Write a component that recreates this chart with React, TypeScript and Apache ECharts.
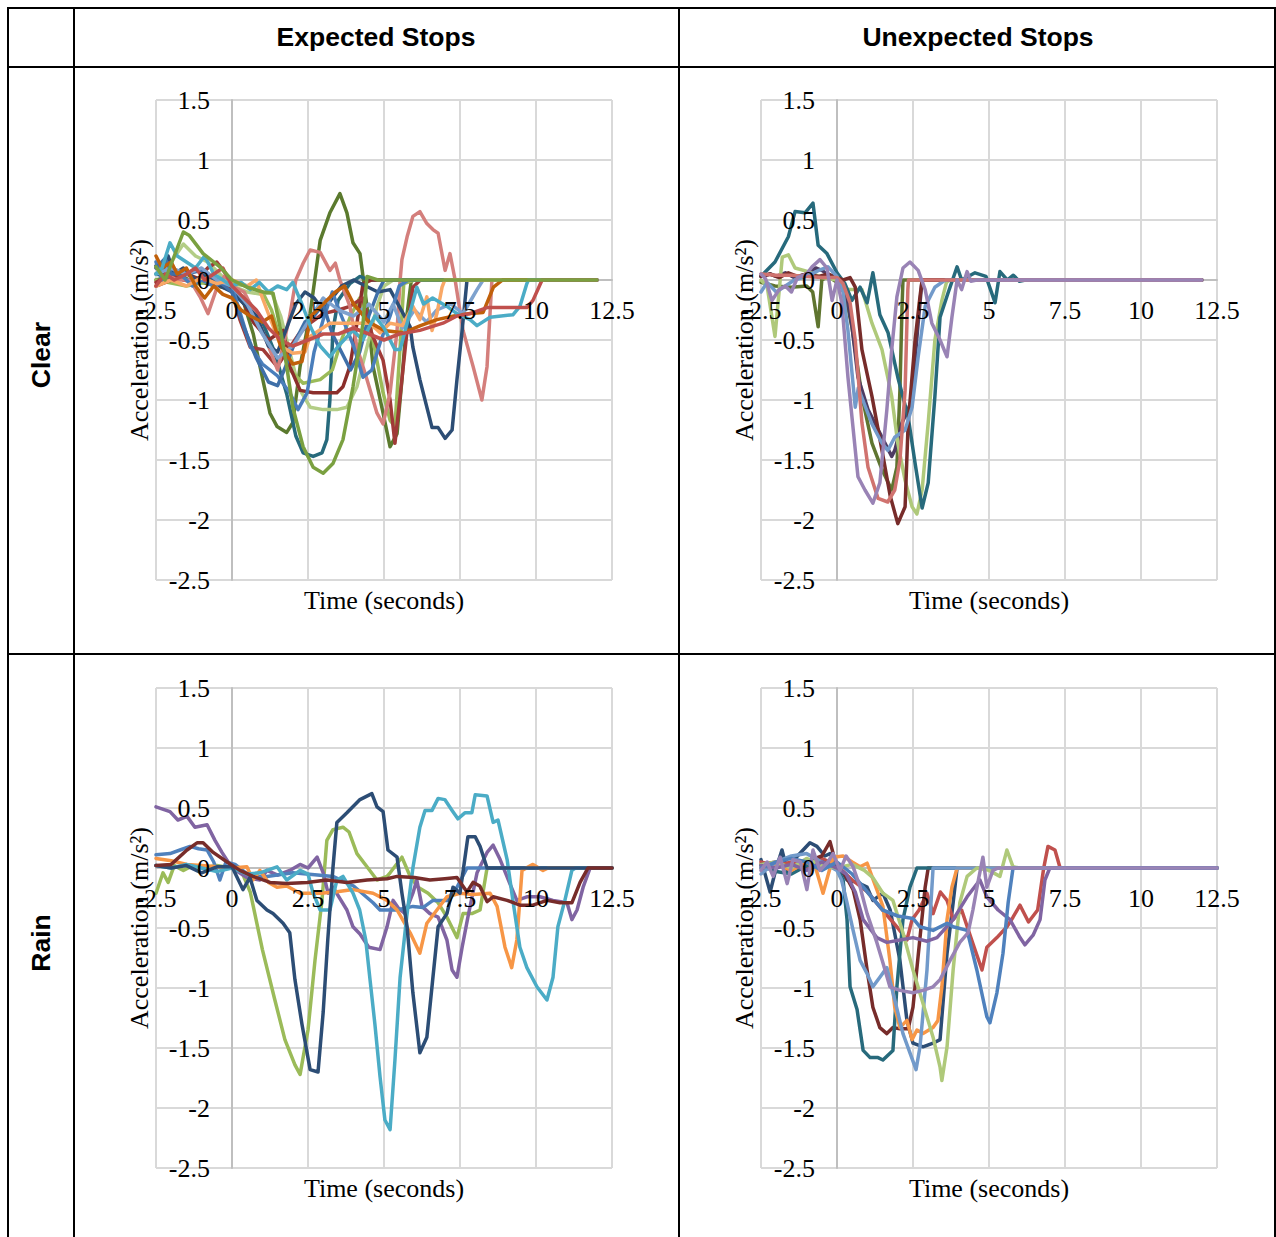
import React, { useEffect, useRef } from "react";
import * as echarts from "echarts";

type Pt = [number, number];

// ---------- axis ticks & texts ----------
const xTicks = [-2.5, 0, 2.5, 5, 7.5, 10, 12.5];
const yTicks = [-2.5, -2, -1.5, -1, -0.5, 0, 0.5, 1, 1.5];
const columnHeaders = ["Expected Stops", "Unexpected Stops"];
const rowHeaders = ["Clear", "Rain"];
const xAxisTitle = "Time (seconds)";
const yAxisTitle = "Acceleration (m/s²)";

// ---------- Clear / Expected ----------
const ceOlive: Pt[] = [[-2.5,0.0],[-2.2,0.02],[-1.8,0.05],[-1.4,0.0],[-1.0,-0.02],[-0.5,-0.05],[0,-0.08],[0.4,-0.2],[0.7,-0.45],[0.92,-0.72],[1.25,-1.11],[1.48,-1.22],[1.8,-1.27],[2.0,-1.19],[2.24,-0.72],[2.57,-0.28],[2.9,0.33],[3.22,0.56],[3.55,0.72],[3.78,0.56],[3.98,0.31],[4.21,0.22],[4.44,-0.22],[4.64,-0.72],[4.97,-1.11],[5.2,-1.39],[5.43,-1.28],[5.59,-0.83],[5.76,-0.28],[5.9,0],[12,0]];
const ceTeal: Pt[] = [[-2.5,0.05],[-2,0.02],[-1.5,0.0],[-1,0.02],[-0.5,-0.02],[0,-0.05],[0.3,-0.15],[0.6,-0.2],[1,-0.35],[1.4,-0.6],[1.8,-0.95],[2.1,-1.3],[2.34,-1.44],[2.67,-1.47],[2.96,-1.44],[3.12,-1.33],[3.22,-1.0],[3.32,-0.42],[3.49,-0.17],[3.88,-0.03],[4.21,0.03],[4.5,0],[12,0]];
const ceLightGreen: Pt[] = [[-2.5,0.05],[-2.0,0.15],[-1.6,0.3],[-1.2,0.2],[-0.8,0.15],[-0.4,0.05],[0,-0.05],[0.5,-0.1],[1.0,-0.12],[1.3,-0.1],[1.6,-0.3],[1.9,-0.6],[2.2,-0.9],[2.57,-1.06],[3.0,-1.08],[3.45,-1.08],[3.78,-1.06],[4.11,-0.89],[4.44,-0.56],[4.77,-0.22],[5.0,-0.05],[5.3,0],[12,0]];
const ceGreen2: Pt[] = [[-2.5,0.0],[-1.5,-0.05],[-0.5,0.0],[0,-0.03],[0.5,-0.05],[1.0,-0.1],[1.3,-0.25],[1.6,-0.5],[1.9,-0.75],[2.34,-0.86],[2.9,-0.83],[3.3,-0.75],[3.6,-0.5],[3.9,-0.3],[4.2,-0.15],[4.6,-0.45],[4.97,-0.94],[5.2,-1.17],[5.36,-1.22],[5.53,-0.56],[5.65,-0.03],[6,0],[12,0]];
const ceDarkRed: Pt[] = [[-2.5,-0.05],[-2,0.0],[-1.5,0.05],[-1,0.0],[-0.5,-0.02],[0,-0.05],[0.3,-0.15],[0.7,-0.35],[1.2,-0.5],[1.68,-0.42],[1.9,-0.72],[2.24,-0.92],[2.67,-0.94],[3.0,-0.94],[3.45,-0.94],[3.65,-0.89],[3.88,-0.72],[4.11,-0.36],[4.31,-0.03],[4.6,0],[12,0]];
const ceRed2: Pt[] = [[-2.5,-0.02],[-2,0.05],[-1.6,0.0],[-1.2,-0.02],[-0.8,0.1],[-0.5,0.15],[-0.2,0.05],[0,-0.1],[0.26,-0.33],[0.6,-0.56],[1.02,-0.58],[1.48,-0.72],[1.8,-0.6],[2.2,-0.45],[2.57,-0.36],[3.0,-0.28],[3.5,-0.25],[3.88,-0.22],[4.3,-0.15],[4.6,-0.45],[4.97,-0.67],[5.2,-1.0],[5.36,-1.36],[5.53,-0.97],[5.76,-0.42],[5.95,-0.06],[6.2,0],[12,0]];
const ceSalmon: Pt[] = [[-2.5,0.1],[-2.2,0.05],[-1.8,0.0],[-1.38,0.0],[-1.05,-0.14],[-0.79,-0.28],[-0.49,-0.06],[-0.2,0.05],[0,-0.05],[0.4,-0.1],[0.8,-0.3],[1.2,-0.55],[1.5,-0.75],[1.9,-0.3],[2.1,0.0],[2.34,0.14],[2.57,0.25],[2.9,0.23],[3.22,0.08],[3.4,0.14],[3.55,0],[3.88,-0.22],[4.11,-0.56],[4.44,-0.83],[4.77,-1.11],[4.97,-1.2],[5.2,-0.94],[5.43,-0.42],[5.53,0],[5.59,0.17],[5.76,0.36],[5.95,0.53],[6.18,0.57],[6.41,0.47],[6.61,0.42],[6.78,0.39],[7.01,0.08],[7.17,0.22],[7.34,0],[7.6,-0.42],[7.93,-0.72],[8.22,-1.0],[8.39,-0.72],[8.55,0],[12,0]];
const ceDarkBlue: Pt[] = [[-2.5,0.12],[-2.3,0.05],[-2.1,0.2],[-1.9,0.05],[-1.6,0.1],[-1.2,0.0],[-0.8,0.05],[-0.4,-0.05],[0,-0.1],[0.4,-0.2],[0.8,-0.3],[1.2,-0.55],[1.5,-0.6],[1.8,-0.4],[2.1,-0.2],[2.4,-0.1],[2.7,-0.15],[3.0,-0.25],[3.3,-0.15],[3.6,-0.05],[4.0,0.0],[4.4,-0.05],[4.8,-0.1],[5.2,-0.08],[5.63,-0.28],[5.86,-0.39],[5.95,-0.56],[6.18,-0.83],[6.58,-1.23],[6.78,-1.23],[7.01,-1.32],[7.24,-1.25],[7.4,-0.83],[7.57,-0.42],[7.73,0],[12,0]];
const ceBlue: Pt[] = [[-2.5,0.15],[-2.3,0.0],[-2.0,0.1],[-1.7,0.05],[-1.3,-0.05],[-1.0,0.0],[-0.6,-0.05],[-0.3,-0.02],[0,-0.05],[0.3,-0.3],[0.6,-0.55],[1.0,-0.7],[1.5,-0.8],[1.9,-0.94],[2.17,-1.08],[2.47,-0.94],[2.7,-0.6],[3.0,-0.33],[3.3,-0.1],[3.6,-0.3],[4.0,-0.55],[4.31,-0.81],[4.6,-0.75],[4.9,-0.5],[5.2,-0.3],[5.5,-0.05],[5.8,0],[12,0]];
const ceBlue2: Pt[] = [[-2.5,0.1],[-2.2,0.18],[-2.0,0.05],[-1.5,0.05],[-1.0,0.08],[-0.5,0.0],[0,-0.1],[0.4,-0.4],[0.8,-0.65],[1.2,-0.85],[1.5,-0.88],[1.8,-0.7],[2.1,-0.5],[2.4,-0.35],[2.7,-0.3],[3.0,-0.2],[3.3,-0.45],[3.6,-0.6],[3.9,-0.75],[4.2,-0.6],[4.5,-0.3],[4.8,-0.1],[5.0,0],[12,0]];
const ceLightBlue: Pt[] = [[-2.5,0.05],[-2,0.1],[-1.5,0.05],[-1,0.1],[-0.5,0.0],[0,-0.05],[0.5,-0.2],[1.0,-0.45],[1.5,-0.65],[2.0,-0.55],[2.5,-0.35],[3.0,-0.15],[3.5,-0.25],[4.0,-0.3],[4.5,-0.2],[5.0,-0.35],[5.3,-0.2],[5.6,-0.4],[6.0,-0.25],[6.4,-0.35],[6.74,-0.25],[7.2,-0.2],[7.6,-0.28],[7.9,-0.15],[8.06,-0.08],[8.26,0],[12,0]];
const ceOrange: Pt[] = [[-2.5,-0.05],[-2,0.0],[-1.5,-0.05],[-1,0.02],[-0.5,-0.03],[0,0.0],[0.5,-0.05],[0.8,0.0],[1.0,-0.15],[1.3,-0.35],[1.6,-0.55],[2.0,-0.61],[2.4,-0.6],[2.57,-0.47],[3.22,-0.36],[3.88,-0.36],[4.54,-0.36],[4.87,-0.44],[5.2,-0.36],[5.6,-0.38],[5.95,-0.22],[6.18,-0.33],[6.41,-0.14],[6.58,-0.42],[6.74,-0.28],[6.91,-0.06],[7.0,0],[12,0]];
const ceDarkOrange: Pt[] = [[-2.5,0.2],[-2.3,0.1],[-2.0,0.15],[-1.8,0.05],[-1.5,0.1],[-1.2,-0.05],[-0.9,-0.15],[-0.6,-0.05],[-0.3,-0.12],[0,-0.15],[0.3,-0.25],[0.6,-0.3],[1.0,-0.35],[1.3,-0.3],[1.6,-0.55],[2.0,-0.7],[2.3,-0.68],[2.6,-0.3],[3.0,-0.2],[3.4,-0.1],[3.7,-0.05],[4.0,-0.2],[4.5,-0.35],[5.0,-0.42],[5.63,-0.44],[6.2,-0.38],[6.74,-0.33],[7.3,-0.3],[7.83,-0.28],[8.26,-0.27],[8.6,-0.06],[8.9,0],[12,0]];
const ceAqua: Pt[] = [[-2.5,0.05],[-2.3,0.1],[-2.04,0.31],[-1.8,0.2],[-1.5,0.15],[-1.2,0.1],[-0.9,0.2],[-0.6,0.05],[-0.3,0.0],[0,-0.05],[0.3,-0.02],[0.6,-0.08],[0.9,-0.02],[1.2,-0.1],[1.5,-0.05],[1.8,-0.08],[2.0,-0.02],[2.3,-0.2],[2.6,-0.4],[2.9,-0.55],[3.22,-0.64],[3.5,-0.55],[3.98,-0.42],[4.3,-0.5],[4.7,-0.3],[5.0,-0.4],[5.36,-0.58],[5.53,-0.58],[5.76,-0.36],[6.08,-0.06],[6.3,-0.2],[6.6,-0.15],[7.07,-0.22],[7.4,-0.28],[7.83,-0.33],[8.06,-0.38],[8.49,-0.31],[9.24,-0.29],[9.47,-0.22],[9.7,-0.03],[9.75,0],[12,0]];
const ceRed: Pt[] = [[-2.5,-0.05],[-2.2,0.05],[-1.9,0.0],[-1.5,0.05],[-1.2,0.1],[-0.9,0.0],[-0.6,0.05],[-0.3,0.1],[0,-0.05],[0.4,-0.15],[0.8,-0.25],[1.2,-0.4],[1.6,-0.5],[2.0,-0.55],[2.5,-0.5],[3.0,-0.45],[3.5,-0.45],[4.0,-0.4],[4.5,-0.45],[5.0,-0.5],[5.5,-0.45],[6.18,-0.42],[6.94,-0.36],[7.4,-0.3],[7.83,-0.28],[8.39,-0.23],[9.37,-0.23],[9.7,-0.23],[9.9,-0.17],[10.2,0],[12,0]];
const ceGreen: Pt[] = [[-2.5,0.11],[-2.2,0.0],[-1.9,0.2],[-1.6,0.4],[-1.4,0.37],[-0.95,0.22],[-0.4,0.11],[0,0.0],[0.49,-0.06],[1.02,-0.1],[1.35,-0.11],[1.58,-0.39],[1.8,-0.72],[2.0,-1.06],[2.34,-1.39],[2.67,-1.56],[3.0,-1.61],[3.32,-1.53],[3.65,-1.33],[3.98,-0.89],[4.31,-0.36],[4.44,0.03],[4.8,0.0],[12,0]];

// ---------- Clear / Unexpected ----------
const cuOlive: Pt[] = [[-2.5,-0.02],[-2.04,-0.05],[-1.5,-0.06],[-1.0,-0.05],[-0.8,-0.1],[-0.62,-0.39],[-0.5,0.0],[-0.3,0.03],[0,-0.02],[0.2,-0.03],[0.49,-0.39],[0.82,-0.97],[1.15,-1.36],[1.48,-1.58],[1.8,-1.75],[1.97,-1.56],[2.07,-0.92],[2.14,-0.22],[2.17,0],[12,0]];
const cuDarkPurple: Pt[] = [[-2.5,0.03],[-2.2,0.05],[-2.0,0.03],[-1.7,0.06],[-1.4,0.02],[-1.0,0.05],[-0.7,0.1],[-0.5,0.08],[-0.2,0.03],[0,0.0],[0.3,-0.1],[0.5,-0.4],[0.69,-0.81],[1.02,-1.08],[1.48,-1.31],[1.8,-1.47],[1.9,-1.42],[2.14,-1.19],[2.34,-1.08],[2.45,-1.0],[2.67,-0.36],[2.77,-0.08],[2.8,0],[12,0]];
const cuLightGreen: Pt[] = [[-2.5,0.0],[-2.3,-0.05],[-2.04,-0.47],[-1.8,0.19],[-1.6,0.21],[-1.38,0.1],[-0.95,0.07],[-0.5,0.02],[0,0.0],[0.36,-0.08],[0.82,-0.08],[1.15,-0.36],[1.48,-0.58],[1.8,-0.97],[2.0,-1.36],[2.24,-1.67],[2.47,-1.89],[2.63,-1.95],[2.8,-1.75],[3.0,-1.19],[3.22,-0.5],[3.45,-0.17],[3.6,-0.02],[3.7,0],[12,0]];
const cuTeal: Pt[] = [[-2.5,0.03],[-2.04,0.15],[-1.6,0.36],[-1.38,0.57],[-1.05,0.56],[-0.79,0.64],[-0.62,0.29],[-0.33,0.22],[0,0.06],[0.26,-0.03],[0.49,-0.17],[0.76,-0.06],[0.99,-0.19],[1.18,0.06],[1.41,-0.29],[1.68,-0.44],[2.0,-0.81],[2.34,-1.14],[2.57,-1.53],[2.8,-1.9],[3.0,-1.69],[3.22,-0.97],[3.39,-0.31],[3.65,-0.11],[3.95,0.11],[4.1,0],[4.54,0.06],[4.9,0.03],[5.2,-0.19],[5.36,0.07],[5.6,0.0],[5.8,0.04],[6.0,-0.01],[6.2,0],[12,0]];
const cuMaroon: Pt[] = [[-2.5,0.03],[-2.2,0.05],[-1.9,0.02],[-1.6,0.06],[-1.3,0.03],[-1.0,0.05],[-0.6,0.03],[-0.3,0.05],[0,0.02],[0.2,0.0],[0.43,0.02],[0.6,-0.06],[0.82,-0.58],[1.15,-0.97],[1.48,-1.42],[1.75,-1.8],[2.0,-2.03],[2.24,-1.89],[2.34,-1.2],[2.57,-0.5],[2.73,-0.14],[2.8,0],[12,0]];
const cuLightBlue: Pt[] = [[-2.5,-0.1],[-2.3,-0.02],[-2.0,-0.1],[-1.7,-0.05],[-1.4,0.0],[-1.0,0.03],[-0.6,0.08],[-0.3,0.11],[0,0.03],[0.2,-0.1],[0.36,-0.42],[0.6,-1.06],[0.7,-0.9],[1.15,-1.2],[1.48,-1.36],[1.67,-1.42],[1.9,-1.31],[2.24,-1.25],[2.47,-1.06],[2.67,-0.64],[2.9,-0.22],[3.22,-0.06],[3.5,-0.01],[3.6,0],[12,0]];
const cuSalmon: Pt[] = [[-2.5,0.05],[-2.0,0.04],[-1.5,0.04],[-1.0,0.03],[-0.5,0.02],[0,0.02],[0.2,-0.03],[0.43,-0.19],[0.6,-0.5],[0.82,-1.19],[1.02,-1.56],[1.35,-1.82],[1.67,-1.85],[1.9,-1.75],[2.07,-1.5],[2.24,-0.92],[2.33,-0.08],[2.35,0],[12,0]];
const cuLavender: Pt[] = [[-2.5,0.05],[-2.35,0.01],[-2.14,-0.17],[-1.9,-0.08],[-1.7,-0.05],[-1.5,-0.1],[-1.3,0.02],[-1.0,0.05],[-0.82,0.11],[-0.56,0.17],[-0.33,0.1],[-0.16,-0.17],[0,0.0],[0.16,-0.19],[0.36,-0.81],[0.69,-1.64],[0.92,-1.75],[1.18,-1.86],[1.41,-1.69],[1.64,-1.08],[1.8,-0.58],[1.97,-0.14],[2.17,0.1],[2.4,0.15],[2.67,0.08],[2.9,-0.08],[3.12,-0.36],[3.39,-0.5],[3.62,-0.64],[3.78,-0.31],[3.95,0],[4.1,-0.08],[4.28,0.07],[4.4,-0.01],[4.6,0],[12,0]];

// ---------- Rain / Expected ----------
const reGreen: Pt[] = [[-2.5,-0.21],[-2.27,-0.04],[-2.1,-0.12],[-1.9,0.02],[-1.6,-0.02],[-1.3,0.02],[-1.0,0.0],[-0.5,0.02],[0,0.0],[0.3,-0.02],[0.6,-0.2],[1.0,-0.68],[1.41,-1.1],[1.74,-1.43],[2.07,-1.64],[2.24,-1.72],[2.5,-1.35],[2.73,-0.77],[2.96,-0.27],[3.12,0.23],[3.32,0.32],[3.65,0.34],[3.85,0.3],[4.11,0.12],[4.44,0.01],[4.77,-0.1],[5.1,-0.07],[5.2,-0.04],[5.59,0.09],[5.86,-0.07],[6.12,-0.16],[6.45,-0.21],[6.78,-0.29],[7.07,-0.41],[7.4,-0.58],[7.6,-0.38],[7.89,-0.38],[8.16,-0.35],[8.39,0],[12.5,0]];
const rePurple: Pt[] = [[-2.5,0.51],[-2.04,0.47],[-1.78,0.4],[-1.48,0.43],[-1.22,0.34],[-0.82,0.36],[-0.56,0.23],[-0.33,0.13],[0,0.0],[0.49,-0.08],[0.92,-0.1],[1.15,-0.02],[1.5,-0.06],[1.9,-0.02],[2.24,0.03],[2.5,0.0],[2.8,0.09],[3.0,-0.04],[3.16,-0.21],[3.32,-0.16],[3.78,-0.35],[3.98,-0.49],[4.21,-0.55],[4.5,-0.66],[4.87,-0.68],[5.1,-0.49],[5.3,-0.27],[5.46,-0.33],[5.69,-0.38],[5.95,-0.21],[6.08,-0.1],[6.25,-0.32],[6.51,-0.38],[6.78,-0.41],[7.07,-0.6],[7.24,-0.85],[7.4,-0.91],[7.57,-0.66],[7.76,-0.41],[8.06,-0.04],[8.39,0.13],[8.59,0.19],[8.82,0.07],[9.14,-0.13],[9.37,-0.27],[9.7,-0.24],[10.13,-0.24],[10.56,-0.27],[11.02,-0.29],[11.18,-0.43],[11.35,-0.35],[11.55,-0.16],[11.78,0],[12.5,0]];
const reBlue: Pt[] = [[-2.5,0.11],[-2.04,0.12],[-1.71,0.15],[-1.38,0.18],[-1.1,0.16],[-0.82,0.15],[-0.6,0.05],[-0.4,-0.1],[-0.2,0.05],[0.1,0.03],[0.6,-0.07],[1.15,-0.07],[2.0,-0.04],[2.9,-0.06],[3.32,-0.07],[4.0,-0.15],[4.64,-0.29],[4.87,-0.35],[5.43,-0.35],[5.95,-0.32],[6.28,-0.33],[6.61,-0.27],[7.07,-0.27],[7.4,-0.16],[7.73,0],[12.5,0]];
const reOrange: Pt[] = [[-2.5,0.08],[-2.0,0.06],[-1.48,0.03],[-1.0,0.02],[-0.5,0.01],[0,0.0],[0.49,0.01],[0.69,-0.1],[0.92,-0.02],[1.2,-0.12],[1.48,-0.16],[1.8,-0.15],[2.24,-0.21],[2.9,-0.21],[3.4,-0.2],[3.98,-0.18],[4.64,-0.21],[5.1,-0.27],[5.43,-0.35],[5.86,-0.54],[6.18,-0.71],[6.41,-0.46],[6.74,-0.35],[7.07,-0.24],[7.5,-0.21],[7.93,-0.22],[8.49,-0.21],[8.72,-0.32],[8.98,-0.66],[9.2,-0.83],[9.37,-0.6],[9.54,-0.02],[9.9,0.03],[10.23,-0.02],[10.4,0],[12.5,0]];
const reAqua: Pt[] = [[-2.5,0.02],[-2.0,0.0],[-1.5,0.03],[-1.0,0.0],[-0.5,-0.03],[0,0.0],[0.5,-0.05],[0.92,-0.04],[1.48,0.01],[1.8,-0.1],[2.24,-0.02],[2.5,-0.05],[2.67,-0.21],[2.9,-0.35],[3.22,-0.35],[3.45,-0.1],[3.65,-0.07],[3.98,-0.21],[4.2,-0.35],[4.4,-0.6],[4.54,-0.93],[4.7,-1.3],[4.87,-1.74],[5.03,-2.1],[5.2,-2.18],[5.36,-1.6],[5.53,-0.91],[5.75,-0.4],[5.95,0],[6.18,0.34],[6.35,0.48],[6.58,0.48],[6.78,0.58],[7.0,0.57],[7.24,0.48],[7.43,0.41],[7.66,0.46],[7.89,0.46],[8.0,0.61],[8.39,0.6],[8.59,0.38],[8.75,0.4],[9.05,0.07],[9.24,-0.27],[9.47,-0.66],[9.7,-0.83],[10.03,-0.99],[10.36,-1.1],[10.56,-0.91],[10.72,-0.49],[10.95,-0.27],[11.18,-0.02],[11.3,0],[12.5,0]];
const reDarkBlue: Pt[] = [[-2.5,0.02],[-2.0,0.0],[-1.5,0.02],[-1.0,-0.04],[-0.5,0.01],[0,0.01],[0.36,-0.18],[0.59,-0.08],[0.82,-0.27],[1.15,-0.35],[1.35,-0.38],[1.68,-0.46],[1.9,-0.54],[2.07,-0.93],[2.3,-1.3],[2.57,-1.68],[2.83,-1.7],[3.0,-1.2],[3.15,-0.6],[3.32,0.0],[3.45,0.38],[3.78,0.46],[4.21,0.57],[4.6,0.62],[4.77,0.51],[4.97,0.47],[5.13,0.15],[5.43,0.09],[5.59,-0.21],[5.76,-0.49],[5.95,-1.04],[6.18,-1.54],[6.41,-1.41],[6.61,-0.91],[6.78,-0.49],[7.07,-0.38],[7.27,-0.16],[7.5,-0.21],[7.76,0.26],[8.0,0.26],[8.16,0.18],[8.39,0],[12.5,0]];
const reDarkRed: Pt[] = [[-2.5,0.02],[-2.0,0.03],[-1.48,0.15],[-1.15,0.21],[-0.95,0.21],[-0.62,0.13],[-0.16,0.05],[0.26,-0.02],[0.69,-0.07],[1.25,-0.12],[1.8,-0.13],[2.47,-0.12],[3.12,-0.1],[3.78,-0.12],[4.44,-0.1],[5.1,-0.09],[5.43,-0.07],[6.0,-0.08],[6.51,-0.1],[7.0,-0.09],[7.4,-0.08],[7.73,-0.2],[7.93,-0.12],[8.15,-0.15],[8.39,-0.28],[8.59,-0.24],[9.05,-0.27],[9.47,-0.31],[9.9,-0.31],[10.36,-0.27],[10.79,-0.29],[11.18,-0.29],[11.45,-0.12],[11.71,0],[12.5,0]];

// ---------- Rain / Unexpected ----------
const ruDarkBlue: Pt[] = [[-2.5,0.07],[-2.2,-0.2],[-2.0,0.0],[-1.81,0.15],[-1.64,-0.02],[-1.3,0.1],[-0.89,0.21],[-0.66,0.18],[-0.4,0.1],[-0.23,0.12],[0,0.04],[0.33,-0.1],[0.66,-0.12],[0.99,-0.16],[1.18,-0.27],[1.51,-0.21],[1.75,-0.35],[2.07,-0.77],[2.3,-1.27],[2.5,-1.46],[2.83,-1.49],[3.16,-1.46],[3.39,-1.43],[3.62,-0.71],[3.82,-0.29],[3.95,0],[12.5,0]];
const ruRed: Pt[] = [[-2.5,0.05],[-2.0,0.02],[-1.5,0.05],[-1.0,0.0],[-0.5,0.08],[0,0.02],[0.5,-0.1],[1.0,-0.2],[1.5,-0.35],[2.0,-0.5],[2.3,-0.6],[2.47,-0.43],[2.7,-0.35],[2.96,-0.21],[3.16,-0.38],[3.4,-0.2],[3.62,-0.27],[3.82,-0.43],[4.1,-0.35],[4.47,-0.63],[4.77,-0.85],[4.93,-0.66],[5.26,-0.58],[5.59,-0.49],[5.79,-0.41],[6.02,-0.31],[6.3,-0.45],[6.6,-0.35],[6.8,0.0],[6.94,0.18],[7.17,0.15],[7.34,0],[12.5,0]];
const ruMaroon: Pt[] = [[-2.5,0.03],[-2.0,0.05],[-1.5,0.0],[-1.0,0.05],[-0.5,0.1],[-0.23,0.22],[0,0.0],[0.25,-0.05],[0.53,-0.18],[0.76,-0.43],[0.99,-0.85],[1.18,-1.16],[1.41,-1.33],[1.64,-1.38],[1.84,-1.33],[2.07,-1.34],[2.34,-1.34],[2.5,-1.16],[2.73,-0.58],[2.9,-0.16],[3.0,0],[12.5,0]];
const ruTeal: Pt[] = [[-2.5,0.02],[-2.0,-0.03],[-1.5,-0.05],[-1.0,0.02],[-0.5,0.05],[0,0.0],[0.2,-0.1],[0.33,-0.43],[0.43,-0.99],[0.66,-1.18],[0.86,-1.52],[1.09,-1.58],[1.35,-1.58],[1.51,-1.6],[1.84,-1.52],[1.97,-0.99],[2.17,-0.43],[2.4,-0.16],[2.63,0],[12.5,0]];
const ruOrange: Pt[] = [[-2.5,0.0],[-2.0,0.03],[-1.5,-0.02],[-1.0,0.05],[-0.7,0.0],[-0.46,-0.21],[-0.13,0.09],[0.2,0.1],[0.5,0.05],[0.76,0.01],[0.99,0.04],[1.31,-0.18],[1.51,-0.32],[1.74,-0.77],[1.9,-1.16],[2.07,-1.33],[2.3,-1.27],[2.47,-1.43],[2.63,-1.35],[2.83,-1.38],[3.16,-1.33],[3.32,-1.27],[3.45,-0.99],[3.62,-0.43],[3.78,-0.16],[3.95,0],[12.5,0]];
const ruLightBlue: Pt[] = [[-2.5,-0.05],[-2.0,0.05],[-1.5,0.1],[-1.0,0.12],[-0.5,0.05],[0,-0.02],[0.15,-0.1],[0.33,-0.29],[0.53,-0.52],[0.76,-0.77],[0.99,-0.88],[1.18,-0.99],[1.41,-0.91],[1.64,-0.83],[1.9,-1.1],[2.17,-1.38],[2.4,-1.54],[2.6,-1.68],[2.73,-1.49],[2.96,-0.85],[3.16,0],[12.5,0]];
const ruLightGreen: Pt[] = [[-2.5,0.03],[-2.0,0.05],[-1.5,0.0],[-1.0,0.08],[-0.5,0.02],[0,0.0],[0.5,0.03],[0.9,-0.02],[1.18,-0.08],[1.51,-0.21],[1.84,-0.27],[2.17,-0.54],[2.5,-0.85],[2.83,-1.13],[3.16,-1.41],[3.39,-1.66],[3.45,-1.77],[3.62,-1.49],[3.82,-0.85],[4.04,-0.29],[4.28,-0.07],[4.6,0],[5.0,-0.02],[5.36,-0.07],[5.59,0.15],[5.79,0.01],[6.0,0],[12.5,0]];
const ruPurple: Pt[] = [[-2.5,0.02],[-2.0,0.0],[-1.5,0.03],[-1.0,-0.02],[-0.5,0.05],[0,0.0],[0.3,-0.05],[0.6,-0.2],[0.86,-0.43],[1.31,-0.58],[1.64,-0.62],[2.07,-0.6],[2.5,-0.58],[2.96,-0.61],[3.29,-0.58],[3.82,-0.43],[4.28,-0.24],[4.7,-0.1],[4.93,-0.24],[5.3,-0.35],[5.69,-0.43],[6.02,-0.58],[6.18,-0.64],[6.45,-0.56],[6.68,-0.43],[6.84,-0.1],[7.0,0],[12.5,0]];
const ruBlue: Pt[] = [[-2.5,0.0],[-2.0,0.05],[-1.5,0.08],[-1.0,0.05],[-0.5,-0.02],[0,0.05],[0.5,-0.05],[1.0,-0.2],[1.5,-0.35],[2.0,-0.4],[2.5,-0.42],[2.73,-0.49],[3.16,-0.52],[3.62,-0.46],[3.82,-0.49],[4.28,-0.52],[4.6,-0.85],[4.93,-1.24],[5.03,-1.29],[5.26,-1.04],[5.46,-0.71],[5.63,-0.29],[5.79,0],[12.5,0]];
const ruLavender: Pt[] = [[-2.5,-0.02],[-2.3,0.05],[-2.1,-0.07],[-1.87,0.09],[-1.64,-0.13],[-1.45,0.07],[-1.2,0.05],[-0.99,-0.18],[-0.79,0.15],[-0.56,-0.02],[-0.3,0.05],[-0.13,0.12],[0.1,-0.02],[0.3,0.1],[0.53,0.01],[0.75,-0.15],[0.99,-0.38],[1.31,-0.62],[1.51,-0.79],[1.74,-0.99],[2.07,-1.02],[2.5,-1.04],[2.83,-1.02],[3.16,-0.99],[3.39,-0.93],[3.72,-0.77],[4.04,-0.62],[4.31,-0.54],[4.47,-0.35],[4.65,-0.1],[4.8,0.09],[4.93,-0.16],[5.13,-0.02],[5.3,0],[12.5,0]];

// ---------- panel groupings (data) ----------
const clearExpectedSeries = [ceOlive, ceTeal, ceLightGreen, ceGreen2, ceDarkRed, ceRed2, ceSalmon, ceDarkBlue, ceBlue, ceBlue2, ceLightBlue, ceOrange, ceDarkOrange, ceAqua, ceRed, ceGreen];
const clearUnexpectedSeries = [cuOlive, cuDarkPurple, cuLightGreen, cuTeal, cuMaroon, cuLightBlue, cuSalmon, cuLavender];
const rainExpectedSeries = [reGreen, rePurple, reBlue, reOrange, reAqua, reDarkBlue, reDarkRed];
const rainUnexpectedSeries = [ruDarkBlue, ruRed, ruMaroon, ruTeal, ruOrange, ruLightBlue, ruLightGreen, ruPurple, ruBlue, ruLavender];

// ---------- styles ----------
const clearExpectedColors = ["#5B7A2E", "#276A7C", "#B3CD86", "#9BBB59", "#8B2E2B", "#A03A37", "#D47F7C", "#2C4D75", "#4A7EBB", "#3F6FA8", "#7EA2CE", "#F9A866", "#C0600A", "#4BACC6", "#C0504D", "#7AA040"];
const clearUnexpectedColors = ["#5F7530", "#4D3B62", "#AFC97A", "#276A7C", "#772C2A", "#729ACA", "#D0736F", "#9983B5"];
const rainExpectedColors = ["#9BBB59", "#8064A2", "#4F81BD", "#F79646", "#4BACC6", "#2C4D75", "#772C2A"];
const rainUnexpectedColors = ["#2C4D75", "#C0504D", "#772C2A", "#276A7C", "#F79646", "#729ACA", "#AFC97A", "#8064A2", "#4F81BD", "#9983B5"];

const panelSeries = [clearExpectedSeries, clearUnexpectedSeries, rainExpectedSeries, rainUnexpectedSeries];
const panelColors = [clearExpectedColors, clearUnexpectedColors, rainExpectedColors, rainUnexpectedColors];
const gridBoxes = [
  { left: 156, top: 100 },
  { left: 761, top: 100 },
  { left: 156, top: 688 },
  { left: 761, top: 688 },
];
const PLOT_W = 456;
const PLOT_H = 480;

const SERIF = "Liberation Serif";
const SANS = "Liberation Sans";

export default function App() {
  const ref = useRef<HTMLDivElement>(null);

  useEffect(() => {
    if (!ref.current) return;
    const chart = echarts.init(ref.current, undefined, { renderer: "svg" });

    const xMin = xTicks[0];
    const xMax = xTicks[xTicks.length - 1];
    const yMin = yTicks[0];
    const yMax = yTicks[yTicks.length - 1];
    // axes cross at zero: shift each axis from the plot edge to the zero of the other axis
    const xAxisShift = -PLOT_H * ((0 - yMin) / (yMax - yMin));
    const yAxisShift = -PLOT_W * ((0 - xMin) / (xMax - xMin));

    const grids = gridBoxes.map((g) => ({ left: g.left, top: g.top, width: PLOT_W, height: PLOT_H, containLabel: false }));

    const labelStyle = { color: "#000", fontFamily: SERIF, fontSize: 26 };

    // base axes: grid lines + axis line (under the series)
    const xBase = gridBoxes.map((_, i) => ({
      type: "value", gridIndex: i, min: xMin, max: xMax, interval: xTicks[1] - xTicks[0],
      position: "bottom", offset: xAxisShift, z: 0,
      axisLine: { show: true, onZero: false, lineStyle: { color: "#bfbfbf", width: 2 } },
      axisTick: { show: false },
      axisLabel: { show: false },
      splitLine: { show: true, lineStyle: { color: "#d9d9d9", width: 2 } },
    }));
    const yBase = gridBoxes.map((_, i) => ({
      type: "value", gridIndex: i, min: yMin, max: yMax, interval: yTicks[1] - yTicks[0],
      position: "left", offset: yAxisShift, z: 0,
      axisLine: { show: true, onZero: false, lineStyle: { color: "#bfbfbf", width: 2 } },
      axisTick: { show: false },
      axisLabel: { show: false },
      splitLine: { show: true, lineStyle: { color: "#d9d9d9", width: 2 } },
    }));
    // label axes: tick labels drawn above the series
    const xLab = gridBoxes.map((_, i) => ({
      type: "value", gridIndex: i, min: xMin, max: xMax, interval: xTicks[1] - xTicks[0],
      position: "bottom", offset: xAxisShift, z: 10,
      axisLine: { show: false, onZero: false },
      axisTick: { show: false },
      axisLabel: { ...labelStyle, margin: 17 },
      splitLine: { show: false },
    }));
    const yLab = gridBoxes.map((_, i) => ({
      type: "value", gridIndex: i, min: yMin, max: yMax, interval: yTicks[1] - yTicks[0],
      position: "left", offset: yAxisShift, z: 10,
      axisLine: { show: false, onZero: false },
      axisTick: { show: false },
      axisLabel: { ...labelStyle, margin: 22 },
      splitLine: { show: false },
    }));

    const series: any[] = [];
    panelSeries.forEach((list, p) => {
      list.forEach((data, k) => {
        const color = panelColors[p][k];
        series.push({
          type: "line",
          xAxisIndex: p,
          yAxisIndex: p,
          data,
          symbol: "none",
          showSymbol: false,
          silent: true,
          z: 2,
          lineStyle: { color, width: 3.5, cap: "round", join: "round" },
          itemStyle: { color },
        });
      });
    });

    const graphic: any[] = [];
    const line = (x1: number, y1: number, x2: number, y2: number) => ({
      type: "line",
      shape: { x1, y1, x2, y2 },
      style: { stroke: "#000", lineWidth: 2 },
      silent: true,
    });
    graphic.push(line(7, 8, 1276, 8));
    graphic.push(line(7, 67, 1276, 67));
    graphic.push(line(7, 654, 1276, 654));
    graphic.push(line(8, 7, 8, 1237));
    graphic.push(line(74, 7, 74, 1237));
    graphic.push(line(679, 7, 679, 1237));
    graphic.push(line(1275, 7, 1275, 1237));

    const text = (t: string, x: number, y: number, font: string, rotation = 0) => ({
      type: "text",
      x,
      y,
      rotation,
      silent: true,
      style: { text: t, font, fill: "#000", align: "center", verticalAlign: "middle" },
    });
    const headFont = `bold 26.5px "${SANS}", Arial, sans-serif`;
    graphic.push(text(columnHeaders[0], 376, 37, headFont));
    graphic.push(text(columnHeaders[1], 978, 37, headFont));
    graphic.push(text(rowHeaders[0], 41, 355, headFont, Math.PI / 2));
    graphic.push(text(rowHeaders[1], 41, 943, headFont, Math.PI / 2));

    const titleFont = `26px "${SERIF}", "Times New Roman", serif`;
    gridBoxes.forEach((g) => {
      graphic.push(text(xAxisTitle, g.left + PLOT_W / 2, g.top + PLOT_H + 20, titleFont));
      graphic.push(text(yAxisTitle, g.left - 17, g.top + PLOT_H / 2, titleFont, Math.PI / 2));
    });

    chart.setOption({
      animation: false,
      backgroundColor: "#fff",
      grid: grids,
      xAxis: [...xBase, ...xLab],
      yAxis: [...yBase, ...yLab],
      series,
      graphic,
    } as any);

    return () => chart.dispose();
  }, []);

  return (
    <div
      ref={ref}
      style={{ position: "absolute", left: 0, top: 0, width: 1276, height: 1237 }}
    />
  );
}
